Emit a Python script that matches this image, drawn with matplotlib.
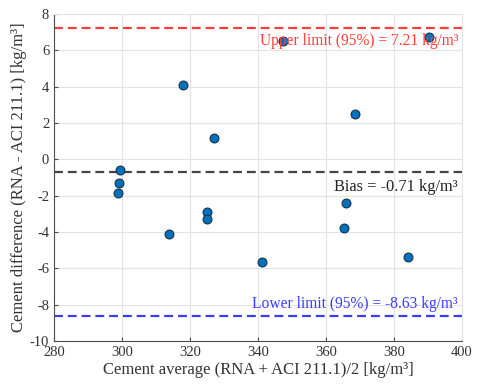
import matplotlib
matplotlib.use("Agg")
import matplotlib.pyplot as plt
import numpy as np

plt.rcParams["font.family"] = ["Liberation Serif", "DejaVu Serif"]
plt.rcParams["axes.unicode_minus"] = False

# cement average (x) and difference (y), kg/m3
avg = [347.3, 390.2, 317.9, 368.4, 327.0, 299.4, 299.1, 298.8,
       365.9, 325.0, 324.9, 365.3, 313.7, 341.1, 384.2]
diff = [6.53, 6.75, 4.11, 2.48, 1.16, -0.59, -1.28, -1.87,
        -2.40, -2.88, -3.27, -3.80, -4.10, -5.67, -5.39]
bias = -0.71
upper = 7.21
lower = -8.63

GRID, AXIS = "#e3e3e3", "#4d4d4d"
DOT, RED, BLUE, DARK = "#0072bd", "#ff3b3b", "#3b3bff", "#444444"
DASH = (0, (4, 2.2))

fig = plt.figure(figsize=(4.8, 3.91), dpi=100)
ax = fig.add_axes([0.1125, 0.128, 0.85, 0.836])

ax.axhline(upper, color=RED, ls=DASH, lw=1.6, zorder=2)
ax.axhline(bias, color=DARK, ls=DASH, lw=1.6, zorder=2)
ax.axhline(lower, color=BLUE, ls=DASH, lw=1.6, zorder=2)
ax.scatter(avg, diff, s=42, color=DOT, edgecolor="#1a2a3a", lw=0.7, zorder=3)

ax.text(398.8, upper - 0.25, f"Upper limit (95%) = {upper:.2f} kg/m³", color=RED,
        ha="right", va="top", fontsize=11.2, zorder=4)
ax.text(398.8, bias - 0.35, f"Bias = {bias:.2f} kg/m³", color="#222222",
        ha="right", va="top", fontsize=11.8, zorder=4)
ax.text(398.8, lower + 0.25, f"Lower limit (95%) = {lower:.2f} kg/m³", color=BLUE,
        ha="right", va="bottom", fontsize=11.2, zorder=4)

ax.set_xlim(280, 400)
ax.set_ylim(-10, 8)
ax.set_xticks(np.arange(280, 401, 20))
ax.set_yticks(np.arange(-10, 9, 2))
ax.grid(True, color=GRID, lw=0.8)
ax.set_axisbelow(True)
ax.tick_params(direction="in", length=3, colors=AXIS, labelsize=10.5, labelcolor="#333333")
for s in ["top", "right"]:
    ax.spines[s].set_color(GRID)
for s in ["left", "bottom"]:
    ax.spines[s].set_color(AXIS)

ax.set_xlabel("Cement average (RNA + ACI 211.1)/2 [kg/m³]", fontsize=12, color="#333333", labelpad=2)
ax.set_ylabel("Cement difference (RNA - ACI 211.1) [kg/m³]", fontsize=12, color="#333333", labelpad=2)

fig.savefig("out.png", dpi=100)
